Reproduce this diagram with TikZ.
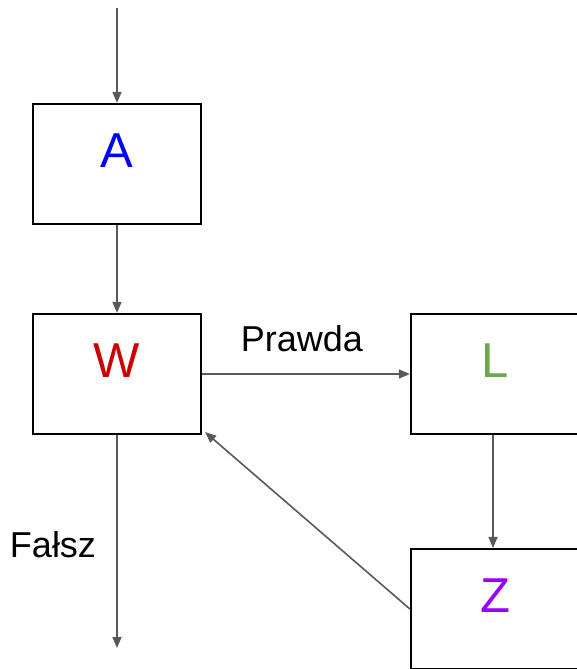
\documentclass[tikz,border=0pt]{standalone}
\usepackage{fontspec}
\setmainfont{Liberation Sans}
\usetikzlibrary{arrows.meta}
\definecolor{linegray}{HTML}{595959}
\definecolor{txtblue}{HTML}{0000FF}
\definecolor{txtred}{HTML}{CC0000}
\definecolor{txtgreen}{HTML}{6AA84F}
\definecolor{txtpurple}{HTML}{9900FF}
\begin{document}
\begin{tikzpicture}[x=1pt,y=-1pt,
  blockbox/.style={draw=black, line width=2.2pt, fill=white, minimum width=168pt, minimum height=120pt, inner sep=0pt, text depth=26pt, font=\fontsize{49}{49}\selectfont},
  flow/.style={draw=linegray, line width=1.6pt, -{Triangle[length=11pt,width=9pt]}},
  lbl/.style={font=\fontsize{36}{36}\selectfont, inner sep=0pt}]
  \useasboundingbox (0,0) rectangle (577,669);
  \clip (0,0) rectangle (577,669);
  \node[blockbox, text=txtblue] (A) at (117,164) {A};
  \node[blockbox, text=txtred] (W) at (117,374) {W};
  \node[blockbox, text=txtgreen] (L) at (495,374) {L};
  \node[blockbox, text=txtpurple] (Z) at (495,609) {Z};
  \coordinate (start) at (117,8);
  \coordinate (out) at (117,648);
  \draw[flow] (start) -- (A.north);
  \draw[flow] (A.south) -- (W.north);
  \draw[flow] (W.east) -- (L.west);
  \draw[flow] ([xshift=-2pt]L.south) -- ([xshift=-2pt]Z.north);
  \draw[flow] (Z.west) -- ([xshift=3pt,yshift=3pt]W.south east);
  \draw[flow] (W.south) -- (out);
  \node[lbl] (prawda) at (302,339) {Prawda};
  \node[lbl] (falsz) at (53,545) {Fałsz};
\end{tikzpicture}
\end{document}
